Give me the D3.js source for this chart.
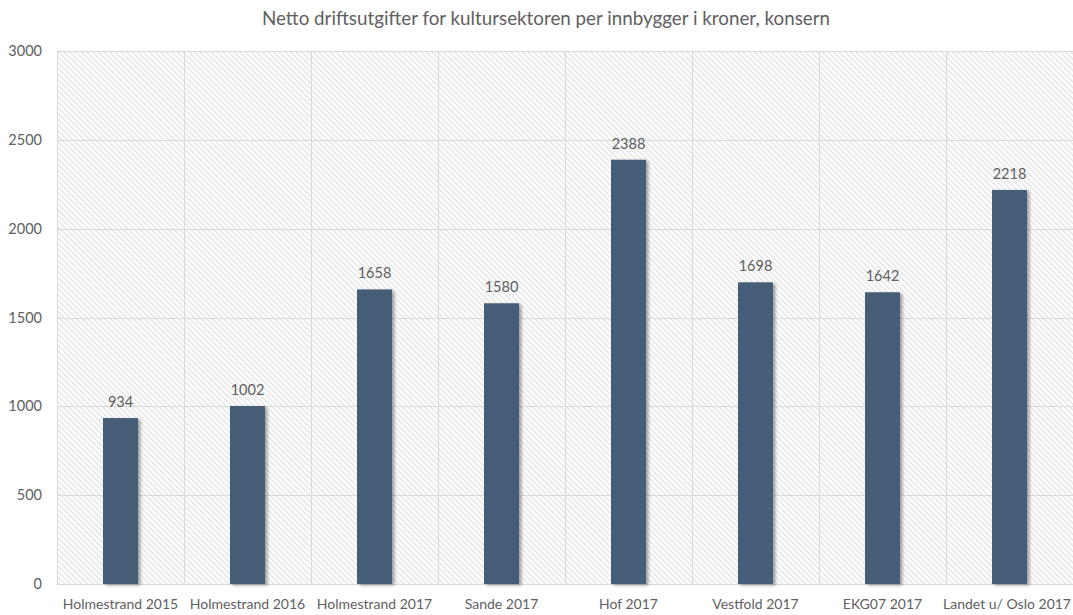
<!DOCTYPE html>
<html>
<head>
<meta charset="utf-8">
<script src="https://cdn.jsdelivr.net/npm/d3@7"></script>
<style>
  html, body { margin: 0; padding: 0; background: #fff; }
  svg { display: block; }
  text { font-family: Lato, "Open Sans", sans-serif; fill: #606060; }
</style>
</head>
<body>
<svg id="chart" width="1073" height="615"></svg>
<script>
const title = "Netto driftsutgifter for kultursektoren per innbygger i kroner, konsern";
const categories = ["Holmestrand 2015", "Holmestrand 2016", "Holmestrand 2017", "Sande 2017",
                    "Hof 2017", "Vestfold 2017", "EKG07 2017", "Landet u/ Oslo 2017"];
const values = [934, 1002, 1658, 1580, 2388, 1698, 1642, 2218];
const yTicks = [0, 500, 1000, 1500, 2000, 2500, 3000];

const W = 1073, H = 615;
const margin = { top: 51, right: 0, bottom: 31, left: 57 };
const svg = d3.select("#chart");

const defs = svg.append("defs");
const hatch = defs.append("pattern")
  .attr("id", "hatch")
  .attr("patternUnits", "userSpaceOnUse")
  .attr("width", 4).attr("height", 4)
  .attr("patternTransform", "rotate(-45)");
hatch.append("rect").attr("width", 4).attr("height", 4).attr("fill", "#ffffff");
hatch.append("rect").attr("x", 0).attr("y", 0).attr("width", 1.4).attr("height", 4).attr("fill", "#e3e3e3");

const shadow = defs.append("filter").attr("id", "barShadow")
  .attr("x", "-20%").attr("y", "-5%").attr("width", "160%").attr("height", "115%");
shadow.append("feDropShadow")
  .attr("dx", 2.5).attr("dy", 1.5).attr("stdDeviation", 1.6)
  .attr("flood-color", "#000").attr("flood-opacity", 0.35);

const x = d3.scaleBand().domain(categories)
  .range([margin.left, W - margin.right]).paddingInner(0).paddingOuter(0);
const y = d3.scaleLinear().domain([0, 3000]).range([H - margin.bottom, margin.top]);

// plot area background
svg.append("rect")
  .attr("x", margin.left).attr("y", margin.top)
  .attr("width", W - margin.left - margin.right)
  .attr("height", y(0) - margin.top)
  .attr("fill", "url(#hatch)");

// horizontal gridlines
svg.append("g").selectAll("line").data(yTicks).join("line")
  .attr("x1", margin.left).attr("x2", W - margin.right)
  .attr("y1", d => Math.round(y(d)) + 0.5).attr("y2", d => Math.round(y(d)) + 0.5)
  .attr("stroke", "#d9d9d9").attr("stroke-width", 1);

// vertical category separators
const seps = categories.map(c => x(c)).concat([x(categories[categories.length - 1]) + x.bandwidth()]);
svg.append("g").selectAll("line").data(seps).join("line")
  .attr("x1", d => Math.round(d) + 0.5).attr("x2", d => Math.round(d) + 0.5)
  .attr("y1", margin.top).attr("y2", y(0))
  .attr("stroke", "#d9d9d9").attr("stroke-width", 1);

// y axis labels
const yAxis = d3.axisLeft(y).tickValues(yTicks).tickFormat(d3.format("d")).tickSize(0).tickPadding(15);
const ya = svg.append("g").attr("transform", `translate(${margin.left},0)`).call(yAxis);
ya.select(".domain").remove();
ya.selectAll("text").attr("font-size", 14.5).attr("font-family", "Lato, sans-serif").attr("fill", "#606060");

// x axis labels
const xAxis = d3.axisBottom(x).tickSize(0).tickPadding(15);
const xa = svg.append("g").attr("transform", `translate(0,${y(0)})`).call(xAxis);
xa.select(".domain").remove();
xa.selectAll("text").attr("font-size", 14).attr("font-family", "Lato, sans-serif").attr("fill", "#606060");
// keep labels inside the right edge of the canvas
xa.selectAll(".tick").each(function () {
  const t = d3.select(this).select("text");
  const bb = this.getBoundingClientRect();
  const overflow = bb.right - (W - 2);
  if (overflow > 0) t.attr("dx", -overflow);
});

// bars
const barW = 35;
svg.append("g").selectAll("rect").data(values).join("rect")
  .attr("x", (d, i) => x(categories[i]) + x.bandwidth() / 2 - barW / 2)
  .attr("y", d => y(d))
  .attr("width", barW)
  .attr("height", d => y(0) - y(d))
  .attr("fill", "#445d76")
  .attr("filter", "url(#barShadow)");

// data labels
svg.append("g").selectAll("text").data(values).join("text")
  .attr("x", (d, i) => x(categories[i]) + x.bandwidth() / 2)
  .attr("y", d => y(d) - 11)
  .attr("text-anchor", "middle")
  .attr("font-size", 14.5)
  .text(d => d);

// title
svg.append("text")
  .attr("x", 546).attr("y", 25)
  .attr("text-anchor", "middle")
  .attr("font-size", 18.8)
  .text(title);
</script>
</body>
</html>
